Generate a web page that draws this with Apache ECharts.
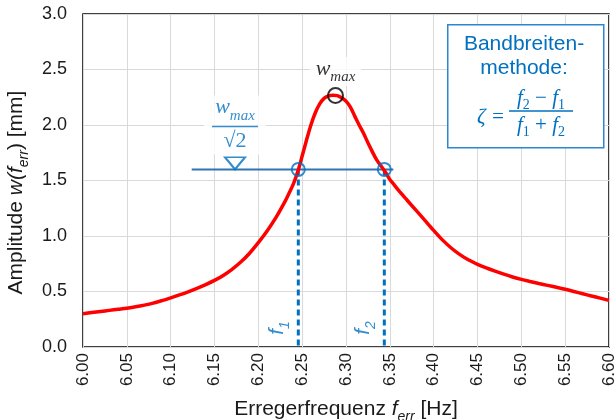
<!DOCTYPE html>
<html>
<head>
<meta charset="utf-8">
<script src="https://cdn.jsdelivr.net/npm/echarts@6/dist/echarts.min.js"></script>
<style>html,body{margin:0;padding:0;background:#fff}</style>
<title>Bandbreitenmethode</title>
</head>
<body>
<div id="main" style="width:616px;height:420px"></div>
<script>
var freq = [6.00, 6.01, 6.02, 6.03, 6.04, 6.05, 6.06, 6.07, 6.08, 6.09,
            6.10, 6.11, 6.12, 6.13, 6.14, 6.15, 6.16, 6.17, 6.18, 6.19,
            6.20, 6.21, 6.22, 6.23, 6.235, 6.24, 6.245, 6.25, 6.255, 6.26,
            6.265, 6.27, 6.275, 6.28, 6.285, 6.29, 6.295, 6.30, 6.305, 6.31,
            6.315, 6.32, 6.325, 6.33, 6.335, 6.34, 6.345, 6.35, 6.355, 6.36,
            6.37, 6.38, 6.39, 6.40, 6.41, 6.42, 6.43, 6.44, 6.45, 6.46,
            6.47, 6.48, 6.49, 6.50, 6.51, 6.52, 6.53, 6.54, 6.55, 6.56,
            6.57, 6.58, 6.59, 6.60];
var amp = [0.30, 0.31, 0.32, 0.33, 0.34, 0.35, 0.362, 0.377, 0.395, 0.418,
           0.443, 0.469, 0.497, 0.528, 0.562, 0.60, 0.645, 0.70, 0.765, 0.845,
           0.94, 1.045, 1.165, 1.305, 1.385, 1.47, 1.58, 1.72, 1.865, 2.00,
           2.11, 2.19, 2.24, 2.262, 2.268, 2.265, 2.245, 2.215, 2.16, 2.08,
           2.00, 1.925, 1.84, 1.76, 1.685, 1.63, 1.575, 1.51, 1.46, 1.41,
           1.32, 1.23, 1.14, 1.05, 0.965, 0.892, 0.832, 0.783, 0.745, 0.712,
           0.683, 0.656, 0.631, 0.609, 0.59, 0.572, 0.555, 0.538, 0.52, 0.50,
           0.48, 0.46, 0.44, 0.42];

// Bandbreiten-Markierungen
var halfPower = 1.6;          // w_max / sqrt(2)
var fHalf = [6.2456, 6.3437];  // f1, f2
var peak = [6.288, 2.266];     // w_max
var hpLineX = [6.124, 6.354];
var triangleAt = [6.1734, 1.655];
var fLabelY = 0.171;

var blue = '#0070C0';
var sans = '"Liberation Sans", Arial, sans-serif';
var serif = '"Liberation Serif", "DejaVu Serif", serif';

var curve = freq.map(function (f, i) { return [f, amp[i]]; });

var myChart = echarts.init(document.getElementById('main'));
myChart.setOption({
    animation: false,
    grid: {
        left: 83, right: 7, top: 14, bottom: 73,
        outerBoundsMode: 'none',
        show: true, borderColor: '#000', borderWidth: 1.5, backgroundColor: '#fff'
    },
    xAxis: {
        type: 'value',
        min: 6.0, max: 6.6, interval: 0.05,
        axisLine: {show: false},
        axisTick: {show: false},
        splitLine: {lineStyle: {color: '#D9D9D9', width: 1}},
        axisLabel: {
            rotate: 90, fontSize: 17, margin: 6, color: '#1a1a1a', fontFamily: sans,
            showMinLabel: true, showMaxLabel: true,
            formatter: function (v) { return v.toFixed(2); }
        },
        name: '{a|Erregerfrequenz }{f|f}{s|err}{a| [Hz]}',
        nameLocation: 'middle',
        nameGap: 52,
        nameTextStyle: {
            rich: {
                a: {fontSize: 21, fontFamily: sans, color: '#1a1a1a', padding: [0, 0, 4, 0], verticalAlign: 'bottom'},
                f: {fontSize: 21, fontFamily: sans, fontStyle: 'italic', color: '#1a1a1a', padding: [0, 0, 4, 0], verticalAlign: 'bottom'},
                s: {fontSize: 14, fontFamily: sans, fontStyle: 'italic', color: '#1a1a1a', verticalAlign: 'bottom'}
            }
        }
    },
    yAxis: {
        type: 'value',
        min: 0, max: 3, interval: 0.5,
        axisLine: {show: false},
        axisTick: {show: false},
        splitLine: {lineStyle: {color: '#D9D9D9', width: 1}},
        axisLabel: {
            fontSize: 18, margin: 16, color: '#1a1a1a', fontFamily: sans,
            formatter: function (v) { return v.toFixed(1); }
        },
        name: '{a|Amplitude }{f|w(f}{s|err}{a|) [mm]}',
        nameLocation: 'middle',
        nameGap: 50,
        nameTextStyle: {
            padding: [0, 24, 0, 0],
            rich: {
                a: {fontSize: 21, fontFamily: sans, color: '#1a1a1a', padding: [0, 0, 4, 0], verticalAlign: 'bottom'},
                f: {fontSize: 21, fontFamily: sans, fontStyle: 'italic', color: '#1a1a1a', padding: [0, 0, 4, 0], verticalAlign: 'bottom'},
                s: {fontSize: 14, fontFamily: sans, fontStyle: 'italic', color: '#1a1a1a', verticalAlign: 'bottom'}
            }
        }
    },
    series: [
        {   // horizontale Linie bei w_max/sqrt(2)
            type: 'line',
            data: [[hpLineX[0], halfPower], [hpLineX[1], halfPower]],
            symbol: 'none',
            lineStyle: {color: '#2E75B6', width: 2},
            z: 2
        },
        {   // f1 gestrichelt
            type: 'line',
            data: [[fHalf[0], halfPower], [fHalf[0], 0]],
            symbol: 'none',
            lineStyle: {color: blue, width: 3, type: [6, 4]},
            z: 2
        },
        {   // f2 gestrichelt
            type: 'line',
            data: [[fHalf[1], halfPower], [fHalf[1], 0]],
            symbol: 'none',
            lineStyle: {color: blue, width: 3, type: [6, 4]},
            z: 2
        },
        {   // Resonanzkurve
            type: 'line',
            data: curve,
            symbol: 'none',
            smooth: 0.3,
            lineStyle: {color: '#FF0000', width: 3.5},
            z: 3
        },
        {   // Kreise bei f1, f2
            type: 'scatter',
            data: fHalf.map(function (f) { return [f, halfPower]; }),
            symbol: 'circle',
            symbolSize: 13,
            itemStyle: {color: 'rgba(0,0,0,0)', borderColor: blue, borderWidth: 2},
            z: 4
        },
        {   // Maximum
            type: 'scatter',
            data: [peak],
            symbol: 'circle',
            symbolSize: 15,
            itemStyle: {color: 'rgba(0,0,0,0)', borderColor: '#000', borderWidth: 2},
            label: {
                show: true, position: 'top', distance: 1,
                backgroundColor: '#fff', padding: [1, 6],
                formatter: '{w|w}{m|max}',
                rich: {
                    w: {fontSize: 22, fontFamily: serif, fontStyle: 'italic', color: '#000', padding: [0, 0, 5, 0], verticalAlign: 'bottom'},
                    m: {fontSize: 15, fontFamily: serif, fontStyle: 'italic', color: '#000', verticalAlign: 'bottom'}
                }
            },
            z: 5
        },
        {   // Dreieck (Wasserspiegel-Symbol) + w_max/sqrt(2)
            type: 'scatter',
            data: [triangleAt],
            symbol: 'path://M0,0 L20,0 L10,12 Z',
            symbolSize: [20, 12],
            itemStyle: {color: '#fff', borderColor: blue, borderWidth: 2},
            label: {
                show: true, position: 'top', distance: 2,
                backgroundColor: '#fff', padding: [1, 8],
                formatter: '{w|w}{m|max}\n{bar| }\n{r|√2}',
                rich: {
                    w: {fontSize: 22, fontFamily: serif, fontStyle: 'italic', color: blue, padding: [0, 0, 5, 0], verticalAlign: 'bottom'},
                    m: {fontSize: 15, fontFamily: serif, fontStyle: 'italic', color: blue, verticalAlign: 'bottom'},
                    bar: {width: 46, height: 1.5, lineHeight: 6, fontSize: 1, backgroundColor: blue},
                    r: {fontSize: 22, fontFamily: serif, color: blue, lineHeight: 24}
                }
            },
            z: 5
        },
        {   // Beschriftung f1, f2
            type: 'scatter',
            data: fHalf.map(function (f) { return [f, fLabelY]; }),
            symbolSize: 1,
            itemStyle: {color: 'rgba(0,0,0,0)'},
            label: {
                show: true, position: 'inside', offset: [0, -19], rotate: 90,
                formatter: function (p) { return '{f|f}{s|' + (p.dataIndex + 1) + '}'; },
                rich: {
                    f: {fontSize: 21, fontFamily: sans, fontStyle: 'italic', color: blue, padding: [0, 0, 4, 0], verticalAlign: 'bottom'},
                    s: {fontSize: 14, fontFamily: sans, fontStyle: 'italic', color: blue, verticalAlign: 'bottom'}
                }
            },
            z: 5
        }
    ],
    graphic: [
        {
            type: 'rect', left: 447, top: 24, z: 100,
            shape: {width: 156, height: 123},
            style: {fill: '#fff', stroke: '#2C86D0', lineWidth: 1.5}
        },
        {
            type: 'text', x: 524, y: 44, z: 101,
            style: {text: 'Bandbreiten-', font: '21px "Liberation Sans"', fill: blue, align: 'center', verticalAlign: 'middle'}
        },
        {
            type: 'text', x: 524, y: 68, z: 101,
            style: {text: 'methode:', font: '21px "Liberation Sans"', fill: blue, align: 'center', verticalAlign: 'middle'}
        },
        {
            type: 'text', x: 491, y: 117, z: 101,
            style: {text: 'ζ =', font: 'italic 21px "Liberation Serif"', fill: blue, align: 'center', verticalAlign: 'middle'}
        },
        {
            type: 'text', x: 541, y: 100, z: 101,
            style: {
                text: '{f|f}{s|2}{o| − }{f|f}{s|1}', align: 'center', verticalAlign: 'middle',
                rich: {
                    f: {fontSize: 21, fontFamily: serif, fontStyle: 'italic', fill: blue, padding: [0, 0, 4, 0], verticalAlign: 'bottom'},
                    o: {fontSize: 21, fontFamily: serif, fill: blue, padding: [0, 0, 4, 0], verticalAlign: 'bottom'},
                    s: {fontSize: 14, fontFamily: serif, fill: blue, verticalAlign: 'bottom'}
                }
            }
        },
        {
            type: 'line', z: 101,
            shape: {x1: 509, y1: 111, x2: 573, y2: 111},
            style: {stroke: blue, lineWidth: 1.5}
        },
        {
            type: 'text', x: 541, y: 127, z: 101,
            style: {
                text: '{f|f}{s|1}{o| + }{f|f}{s|2}', align: 'center', verticalAlign: 'middle',
                rich: {
                    f: {fontSize: 21, fontFamily: serif, fontStyle: 'italic', fill: blue, padding: [0, 0, 4, 0], verticalAlign: 'bottom'},
                    o: {fontSize: 21, fontFamily: serif, fill: blue, padding: [0, 0, 4, 0], verticalAlign: 'bottom'},
                    s: {fontSize: 14, fontFamily: serif, fill: blue, verticalAlign: 'bottom'}
                }
            }
        }
    ]
});
</script>
</body>
</html>
